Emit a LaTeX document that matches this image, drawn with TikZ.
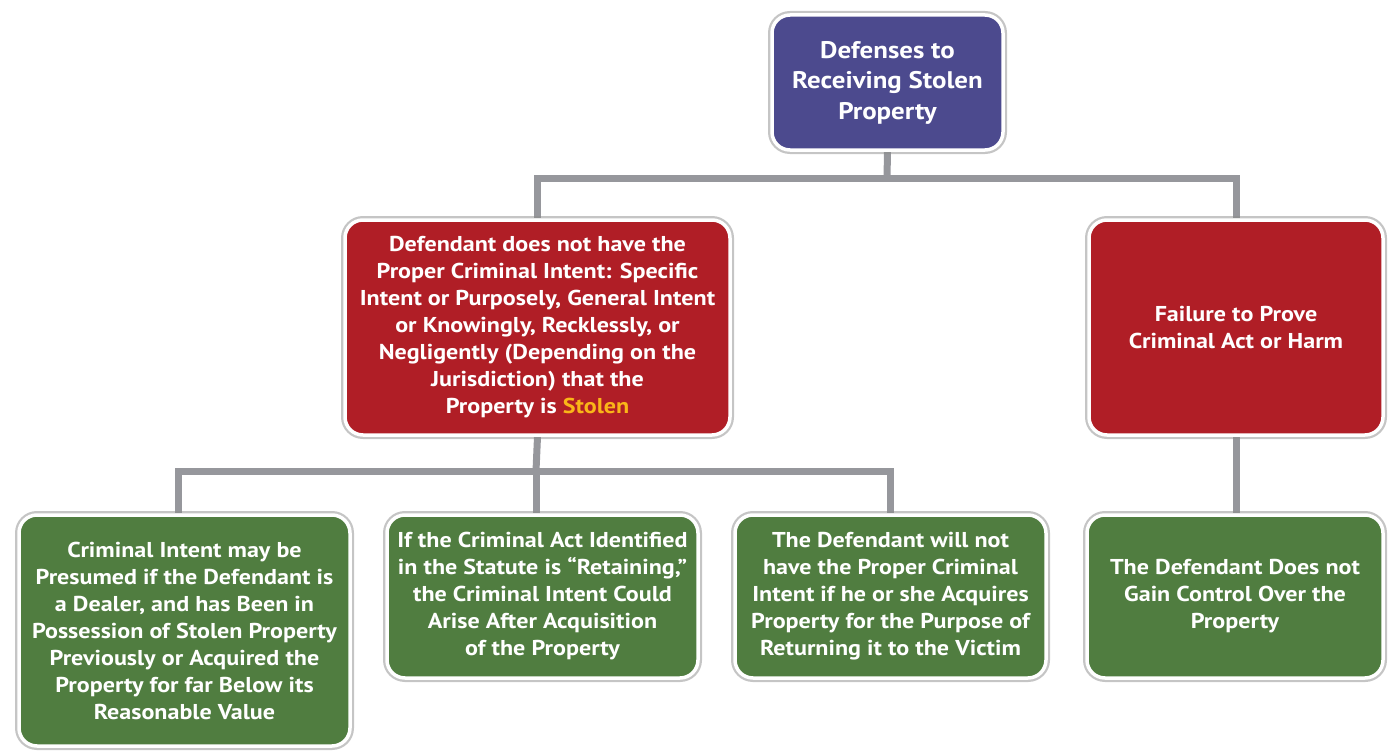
\documentclass[tikz,border=0pt]{standalone}
\usepackage{fontspec}
\setmainfont{PT Sans}[FakeStretch=1.12]
\usetikzlibrary{backgrounds}
\definecolor{topblue}{RGB}{76,74,142}
\definecolor{boxred}{RGB}{176,30,38}
\definecolor{boxgreen}{RGB}{80,125,64}
\definecolor{stolenyellow}{RGB}{250,182,24}
\definecolor{conngray}{RGB}{150,151,156}
\tikzset{
  box/.style={draw=white, line width=3.5pt, rounded corners=18pt, inner sep=0pt,
    text=white, align=center, font=\bfseries\fontsize{21.5}{27}\selectfont,
    preaction={draw=black!45, line width=8pt, opacity=0.5}},
  bluebox/.style={box, fill=topblue, font=\bfseries\fontsize{24}{30.5}\selectfont},
  redbox/.style={box, fill=boxred},
  greenbox/.style={box, fill=boxgreen},
  conn/.style={draw=conngray, line width=7pt}
}
\begin{document}
\begin{tikzpicture}[x=1pt,y=-1pt]
\useasboundingbox (0,0) rectangle (1393,752);
\node[bluebox, minimum width=231pt, minimum height=135pt] (top) at (887.5,82.5)
  {Defenses to\\Receiving Stolen\\Property};
\node[redbox, minimum width=385pt, minimum height=215pt] (redL) at (537.5,327.5)
  {Defendant does not have the\\Proper Criminal Intent: Specific\\Intent or Purposely, General Intent\\or Knowingly, Recklessly, or\\Negligently (Depending on the\\Jurisdiction) that the\\Property is \textcolor{stolenyellow}{Stolen}};
\node[redbox, minimum width=294pt, minimum height=215pt] (redR) at (1236,327.5)
  {Failure to Prove\\Criminal Act or Harm};
\node[greenbox, minimum width=331pt, minimum height=231pt] (g1) at (184.5,630.5)
  {Criminal Intent may be\\Presumed if the Defendant is\\a Dealer, and has Been in\\Possession of Stolen Property\\Previously or Acquired the\\Property for far Below its\\Reasonable Value};
\node[greenbox, minimum width=311pt, minimum height=163pt] (g2) at (542.5,596.5)
  {If the Criminal Act Identified\\in the Statute is “Retaining,”\\the Criminal Intent Could\\Arise After Acquisition\\of the Property};
\node[greenbox, minimum width=311pt, minimum height=163pt] (g3) at (890.5,596.5)
  {The Defendant will not\\have the Proper Criminal\\Intent if he or she Acquires\\Property for the Purpose of\\Returning it to the Victim};
\node[greenbox, minimum width=296pt, minimum height=163pt] (g4) at (1235,596.5)
  {The Defendant Does not\\Gain Control Over the\\Property};
\begin{scope}[on background layer]
\coordinate (h1) at (887,178);
\coordinate (h2) at (536,471);
\draw[conn] (top.south) -- (h1);
\draw[conn] (redL.north) |- (h1) -| (redR.north);
\draw[conn] (redL.south) -- (h2);
\draw[conn] ([xshift=-6pt]g1.north) |- (h2) -| (g3.north);
\draw[conn] (h2) -- (h2 |- g2.north);
\draw[conn] (redR.south) -- (redR.south |- g4.north);
\end{scope}
\end{tikzpicture}
\end{document}
